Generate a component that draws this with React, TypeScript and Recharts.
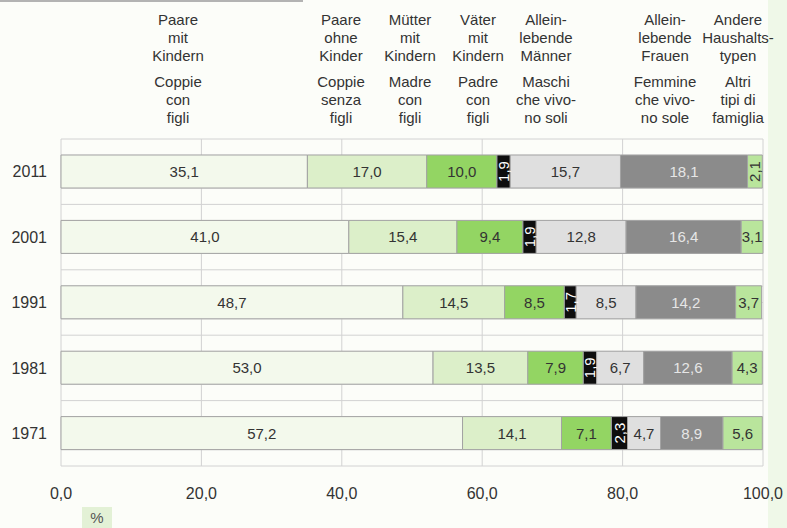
import React from "react";
import { BarChart, Bar, XAxis, YAxis, CartesianGrid, LabelList } from "recharts";

const YEARS = ["2011", "2001", "1991", "1981", "1971"];
const PAARE_MIT = [35.1, 41.0, 48.7, 53.0, 57.2];
const PAARE_OHNE = [17.0, 15.4, 14.5, 13.5, 14.1];
const MUETTER = [10.0, 9.4, 8.5, 7.9, 7.1];
const VAETER = [1.9, 1.9, 1.7, 1.9, 2.3];
const MAENNER = [15.7, 12.8, 8.5, 6.7, 4.7];
const FRAUEN = [18.1, 16.4, 14.2, 12.6, 8.9];
const ANDERE = [2.1, 3.1, 3.7, 4.3, 5.6];
const X_TICKS = [0, 20, 40, 60, 80, 100];

const HEADERS_DE = [
  ["Paare", "mit", "Kindern"],
  ["Paare", "ohne", "Kinder"],
  ["Mütter", "mit", "Kindern"],
  ["Väter", "mit", "Kindern"],
  ["Allein-", "lebende", "Männer"],
  ["Allein-", "lebende", "Frauen"],
  ["Andere", "Haushalts-", "typen"],
];
const HEADERS_IT = [
  ["Coppie", "con", "figli"],
  ["Coppie", "senza", "figli"],
  ["Madre", "con", "figli"],
  ["Padre", "con", "figli"],
  ["Maschi", "che vivo-", "no soli"],
  ["Femmine", "che vivo-", "no sole"],
  ["Altri", "tipi di", "famiglia"],
];

const data = YEARS.map((year, i) => ({
  year,
  s1: PAARE_MIT[i],
  s2: PAARE_OHNE[i],
  s3: MUETTER[i],
  s4: VAETER[i],
  s5: MAENNER[i],
  s6: FRAUEN[i],
  s7: ANDERE[i],
}));

// layout / style (kept separate from data)
const HEADER_CX = [178, 341, 410, 478, 546, 665, 738];
const SERIES = [
  { key: "s1", fill: "#f3f9ec", text: "#333" },
  { key: "s2", fill: "#dcefc9", text: "#333" },
  { key: "s3", fill: "#93d563", text: "#333" },
  { key: "s4", fill: "#0e0e0e", text: "#ffffff" },
  { key: "s5", fill: "#dfdfdf", text: "#333" },
  { key: "s6", fill: "#8b8b8b", text: "#e6e6e6" },
  { key: "s7", fill: "#b9e59c", text: "#333" },
];
const FONT = "'Liberation Sans', Arial, sans-serif";

const fmt = (v: number) => v.toFixed(1).replace(".", ",");

const makeLabel = (color: string) => (props: any) => {
  const { x, y, width, height, value } = props;
  if (value == null) return null;
  const cx = Number(x) + Number(width) / 2;
  const cy = Number(y) + Number(height) / 2;
  const rotate = Number(value) < 2.5;
  return (
    <text
      x={cx}
      y={cy}
      textAnchor="middle"
      dominantBaseline="central"
      fill={color}
      fontSize={15}
      fontFamily={FONT}
      transform={rotate ? `rotate(-90 ${cx} ${cy})` : undefined}
    >
      {fmt(Number(value))}
    </text>
  );
};

const headerBlock = (lines: string[], cx: number, top: number, key: string) => (
  <div
    key={key}
    style={{
      position: "absolute",
      left: cx - 60,
      top,
      width: 120,
      textAlign: "center",
      fontFamily: FONT,
      fontSize: 15,
      lineHeight: "18px",
      color: "#333",
    }}
  >
    {lines.map((l, j) => (
      <div key={j}>{l}</div>
    ))}
  </div>
);

export default function App() {
  return (
    <div
      style={{
        position: "absolute",
        left: 0,
        top: 0,
        width: 787,
        height: 528,
        background: "#fcfdf9",
        overflow: "hidden",
      }}
    >
      <div style={{ position: "absolute", left: 768, top: 0, width: 19, height: 528, background: "#eff8e8" }} />
      <div style={{ position: "absolute", left: 0, top: 0, width: 303, height: 2, background: "#b3b3b3" }} />
      {HEADERS_DE.map((l, i) => headerBlock(l, HEADER_CX[i], 11, "de" + i))}
      {HEADERS_IT.map((l, i) => headerBlock(l, HEADER_CX[i], 73, "it" + i))}
      <div
        style={{
          position: "absolute",
          left: 82,
          top: 507,
          width: 30,
          height: 21,
          background: "#e3f1d6",
          fontFamily: FONT,
          fontSize: 15,
          lineHeight: "21px",
          textAlign: "center",
          color: "#555",
        }}
      >
        %
      </div>
      <div style={{ position: "absolute", left: 0, top: 0 }}>
        <BarChart
          width={787}
          height={528}
          data={data}
          layout="vertical"
          margin={{ top: 139, right: 24, bottom: 0, left: 0 }}
          barSize={33}
        >
          <CartesianGrid
            stroke="#d2d2d2"
            strokeWidth={1}
            horizontalCoordinatesGenerator={(p: any) => {
              const off = p.offset;
              return Array.from({ length: 21 }, (_, i) => off.top + (i * off.height) / 20);
            }}
          />
          <XAxis
            type="number"
            domain={[0, 100]}
            ticks={X_TICKS}
            tickFormatter={fmt}
            axisLine={false}
            tickLine={false}
            tickSize={6}
            tickMargin={16}
            height={62}
            interval={0}
            tick={{ fill: "#333", fontSize: 16, fontFamily: FONT }}
          />
          <YAxis
            type="category"
            dataKey="year"
            width={61}
            axisLine={false}
            tickLine={false}
            tickSize={6}
            tickMargin={8}
            tick={{ fill: "#333", fontSize: 16, fontFamily: FONT }}
          />
          {SERIES.map((s) => (
            <Bar
              key={s.key}
              dataKey={s.key}
              stackId="a"
              fill={s.fill}
              stroke="#a3a3a3"
              strokeWidth={1}
              isAnimationActive={false}
            >
              <LabelList dataKey={s.key} content={makeLabel(s.text)} />
            </Bar>
          ))}
        </BarChart>
      </div>
    </div>
  );
}
